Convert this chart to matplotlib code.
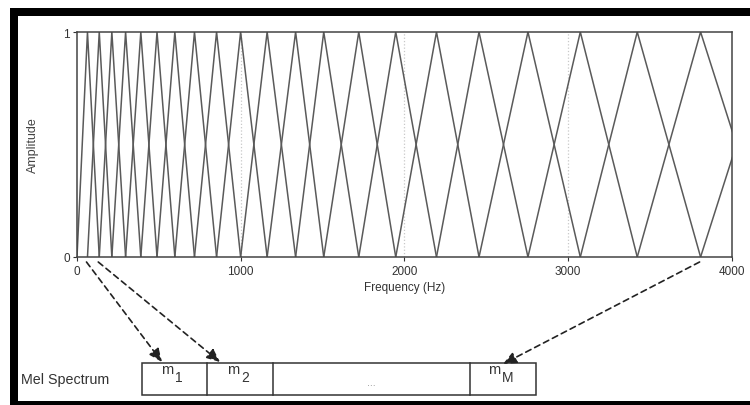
import matplotlib
matplotlib.use("Agg")
import matplotlib.pyplot as plt
from matplotlib.patches import Rectangle

plt.rcParams['font.family'] = ['Liberation Sans', 'DejaVu Sans']

# Filter centre / edge frequencies (Hz)
centers = [0, 64, 136, 213, 297, 390, 489, 598, 718, 853, 1000, 1162, 1336,
           1508, 1722, 1948, 2197, 2457, 2756, 3076, 3424, 3811, 4250, 4720]
peak_amp = 1.0
x_ticks = [0, 1000, 2000, 3000, 4000]
y_ticks = [0, 1]
grid_freqs = [1000, 2000, 3000]
box_subs = ['1', '2', None, 'M']
arrow_filters = [1, 2, 21]   # indices into centers that point to the boxes

W, H = 750, 406
fig = plt.figure(figsize=(W / 100, H / 100), dpi=100)
fig.patch.set_facecolor('white')

ax = fig.add_axes([77 / W, 1 - 258 / H, (731.5 - 77) / W, (258 - 33) / H])
line_col = '#5a5a5a'
for k in range(1, len(centers) - 1):
    ax.plot([centers[k - 1], centers[k], centers[k + 1]], [0, peak_amp, 0],
            color=line_col, lw=1.1, solid_joinstyle='miter')
for g in grid_freqs:
    ax.axvline(g, color='#c8c8c8', ls=':', lw=0.9, zorder=0)
ax.set_xlim(0, 4000)
ax.set_ylim(0, 1)
ax.set_xticks(x_ticks)
ax.set_yticks(y_ticks)
ax.tick_params(axis='both', labelsize=8.5, length=3, width=0.8,
               colors='#333333', pad=2)
ax.tick_params(axis='x', pad=3)
for s in ax.spines.values():
    s.set_color('#444444')
    s.set_linewidth(1.1)
ax.set_xlabel('Frequency (Hz)', fontsize=8.5, color='#333333', labelpad=3)
ax.set_ylabel('Amplitude', fontsize=9, color='#444444', va='center')
ax.yaxis.set_label_coords((33 - 77) / (731.5 - 77), 0.5)

# overlay in pixel coordinates for boxes, arrows and frame
ov = fig.add_axes([0, 0, 1, 1], zorder=5)
ov.set_xlim(0, W)
ov.set_ylim(H, 0)
ov.axis('off')
ov.patch.set_alpha(0)

# frame
ov.add_patch(Rectangle((10, 9), W - 10, 8, color='black', lw=0))
ov.add_patch(Rectangle((10, 9), 7.5, 400, color='black', lw=0))
ov.add_patch(Rectangle((10, 402), W - 10, 10, color='black', lw=0))

# Mel spectrum boxes
edges = [142, 207, 273, 470, 536]
top, bot = 364, 396
ov.add_patch(Rectangle((edges[0], top), edges[-1] - edges[0], bot - top,
                       fill=False, ec='#333333', lw=1.1))
for e in edges[1:-1]:
    ov.plot([e, e], [top, bot], color='#333333', lw=1.1)
for i, sub in enumerate(box_subs):
    cx = (edges[i] + edges[i + 1]) / 2
    if sub is None:
        ov.text(cx, 383, '...', ha='center', va='center', fontsize=7.5,
                color='#8a8a8a')
    else:
        off = -1 if sub != 'M' else -3
        ov.text(cx + off, 374, 'm', ha='right', va='baseline', fontsize=10.5,
                color='#333333')
        ov.text(cx + off + 2, 382, sub, ha='left', va='baseline', fontsize=10,
                color='#333333')
ov.text(21, 380, 'Mel Spectrum', ha='left', va='center', fontsize=10.3,
        color='#333333')

# dashed arrows
ends = [(162, 363), (220, 363), (503, 365)]
for fi, (ex, ey) in zip(arrow_filters, ends):
    sx, sy = ov.transData.inverted().transform(
        ax.transData.transform((centers[fi], 0)))
    sx -= 1
    sy += 5
    ov.annotate('', xy=(ex, ey), xytext=(sx, sy),
                arrowprops=dict(arrowstyle='-|>,head_length=0.8,head_width=0.35',
                                color='#222222', lw=1.2, ls=(0, (3.5, 2.5)),
                                shrinkA=0, shrinkB=0))

fig.savefig('out.png', dpi=100)
